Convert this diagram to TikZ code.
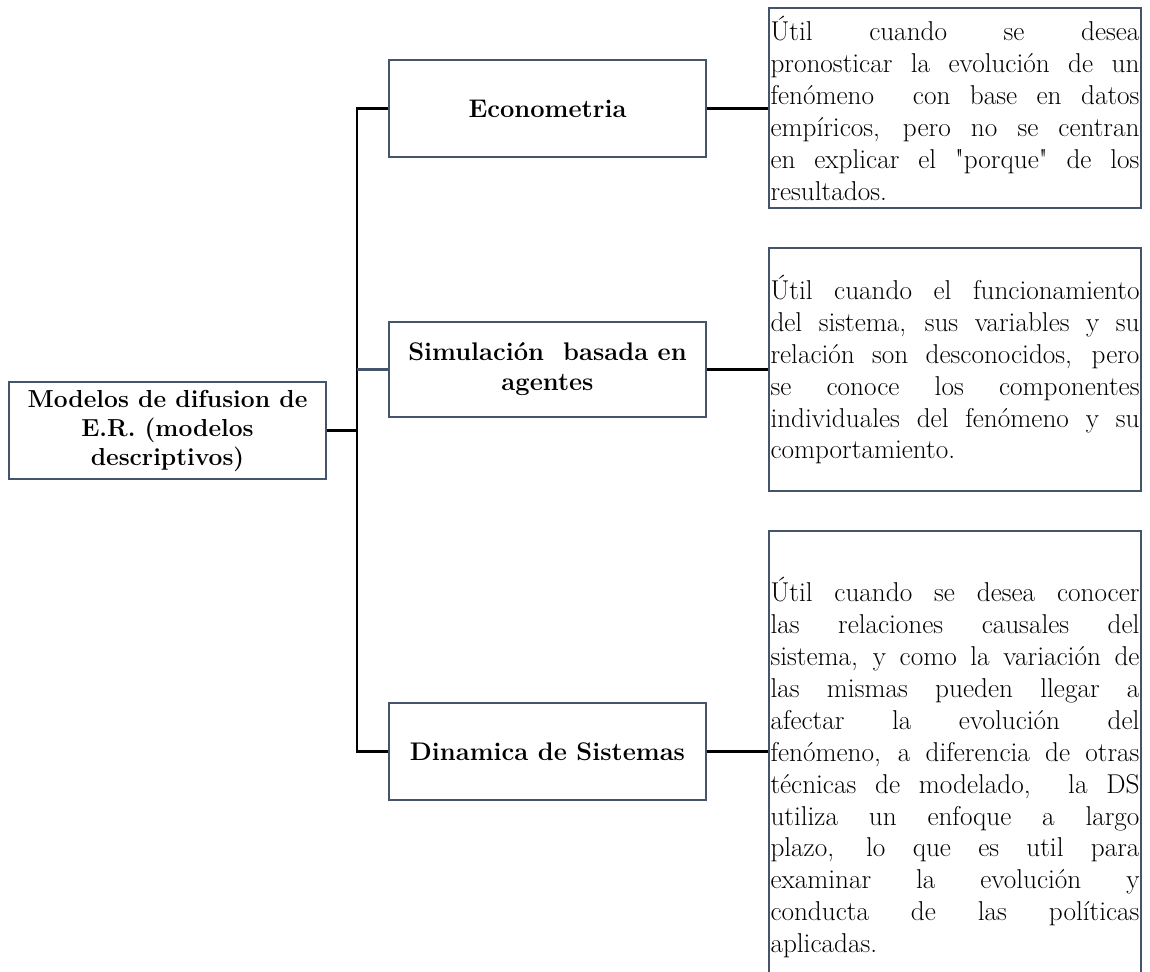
\documentclass[tikz,border=0pt]{standalone}
\usepackage{fontspec}
\usepackage{tikz}
\usetikzlibrary{positioning, calc}
\usepackage{xcolor}
\definecolor{slateblue}{RGB}{68,84,106}
\newcommand{\descfont}{\fontsize{15.5}{18.2}\selectfont}
\tikzset{
    % Model boxes
    catbox/.style={rectangle, draw=slateblue, line width=1.4pt, fill=white,
                minimum width=6.34cm, minimum height=1.94cm, align=center,
                font=\fontsize{14.5}{17}\selectfont\bfseries},
    % Description boxes
    descbox/.style={rectangle, draw=slateblue, line width=1.4pt, fill=white,
                text width=7.38cm, inner xsep=0.03cm, align=justify, font=\descfont},
    % Connectors
    link/.style={line width=1.4pt, black},
    simlink/.style={line width=1.2pt, slateblue},
}
\begin{document}
\begin{tikzpicture}
\useasboundingbox (0,0) rectangle (23,-19.42);

% Root
\node[catbox, font=\fontsize{14}{16.5}\selectfont\bfseries] (root) at (3.35,-8.61) {Modelos de difusion de\\E.R. (modelos\\descriptivos)};

% Model types
\node[catbox] (econ) at (10.95,-2.17) {Econometria};
\node[catbox, minimum height=1.9cm] (sim) at (10.95,-7.39) {Simulación\ \ basada en\\agentes};
\node[catbox] (dyn) at (10.95,-15.03) {Dinamica de Sistemas};

% Descriptions
\node[descbox, minimum height=4.0cm] (econdesc) at (19.10,-2.16) {%
Útil cuando se desea\linebreak
pronosticar la evolución de un\linebreak
fenómeno\ \ con base en datos\linebreak
empíricos, pero no se centran\linebreak
en explicar el \textquotedbl porque\textquotedbl{} de los\linebreak
resultados.};

\node[descbox, minimum height=4.86cm] (simdesc) at (19.10,-7.39) {%
Útil cuando el funcionamiento\linebreak
del sistema, sus variables y su\linebreak
relación son desconocidos, pero\linebreak
se conoce los componentes\linebreak
individuales del fenómeno y su\linebreak
comportamiento.};

\node[descbox, minimum height=9.46cm] (dyndesc) at (19.10,-15.35) {%
Útil cuando se desea conocer\linebreak
las relaciones causales del\linebreak
sistema, y como la variación de\linebreak
las mismas pueden llegar a\linebreak
afectar la evolución del\linebreak
fenómeno, a diferencia de otras\linebreak
técnicas de modelado,\ \ la DS\linebreak
utiliza un enfoque a largo\linebreak
plazo, lo que es util para\linebreak
examinar la evolución y\linebreak
conducta de las políticas\linebreak
aplicadas.};

% Tree
\coordinate (trunk) at (7.14,-8.61);
\draw[link] (root.east) -- (trunk);
\draw[link] (econ.west) -| (trunk) |- (dyn.west);
\draw[simlink] (trunk |- sim.west) -- (sim.west);

% Boxes to descriptions
\draw[link] (econ.east) -- (econ.east -| econdesc.west);
\draw[link] (sim.east) -- (sim.east -| simdesc.west);
\draw[link] (dyn.east) -- (dyn.east -| dyndesc.west);

\end{tikzpicture}
\end{document}
